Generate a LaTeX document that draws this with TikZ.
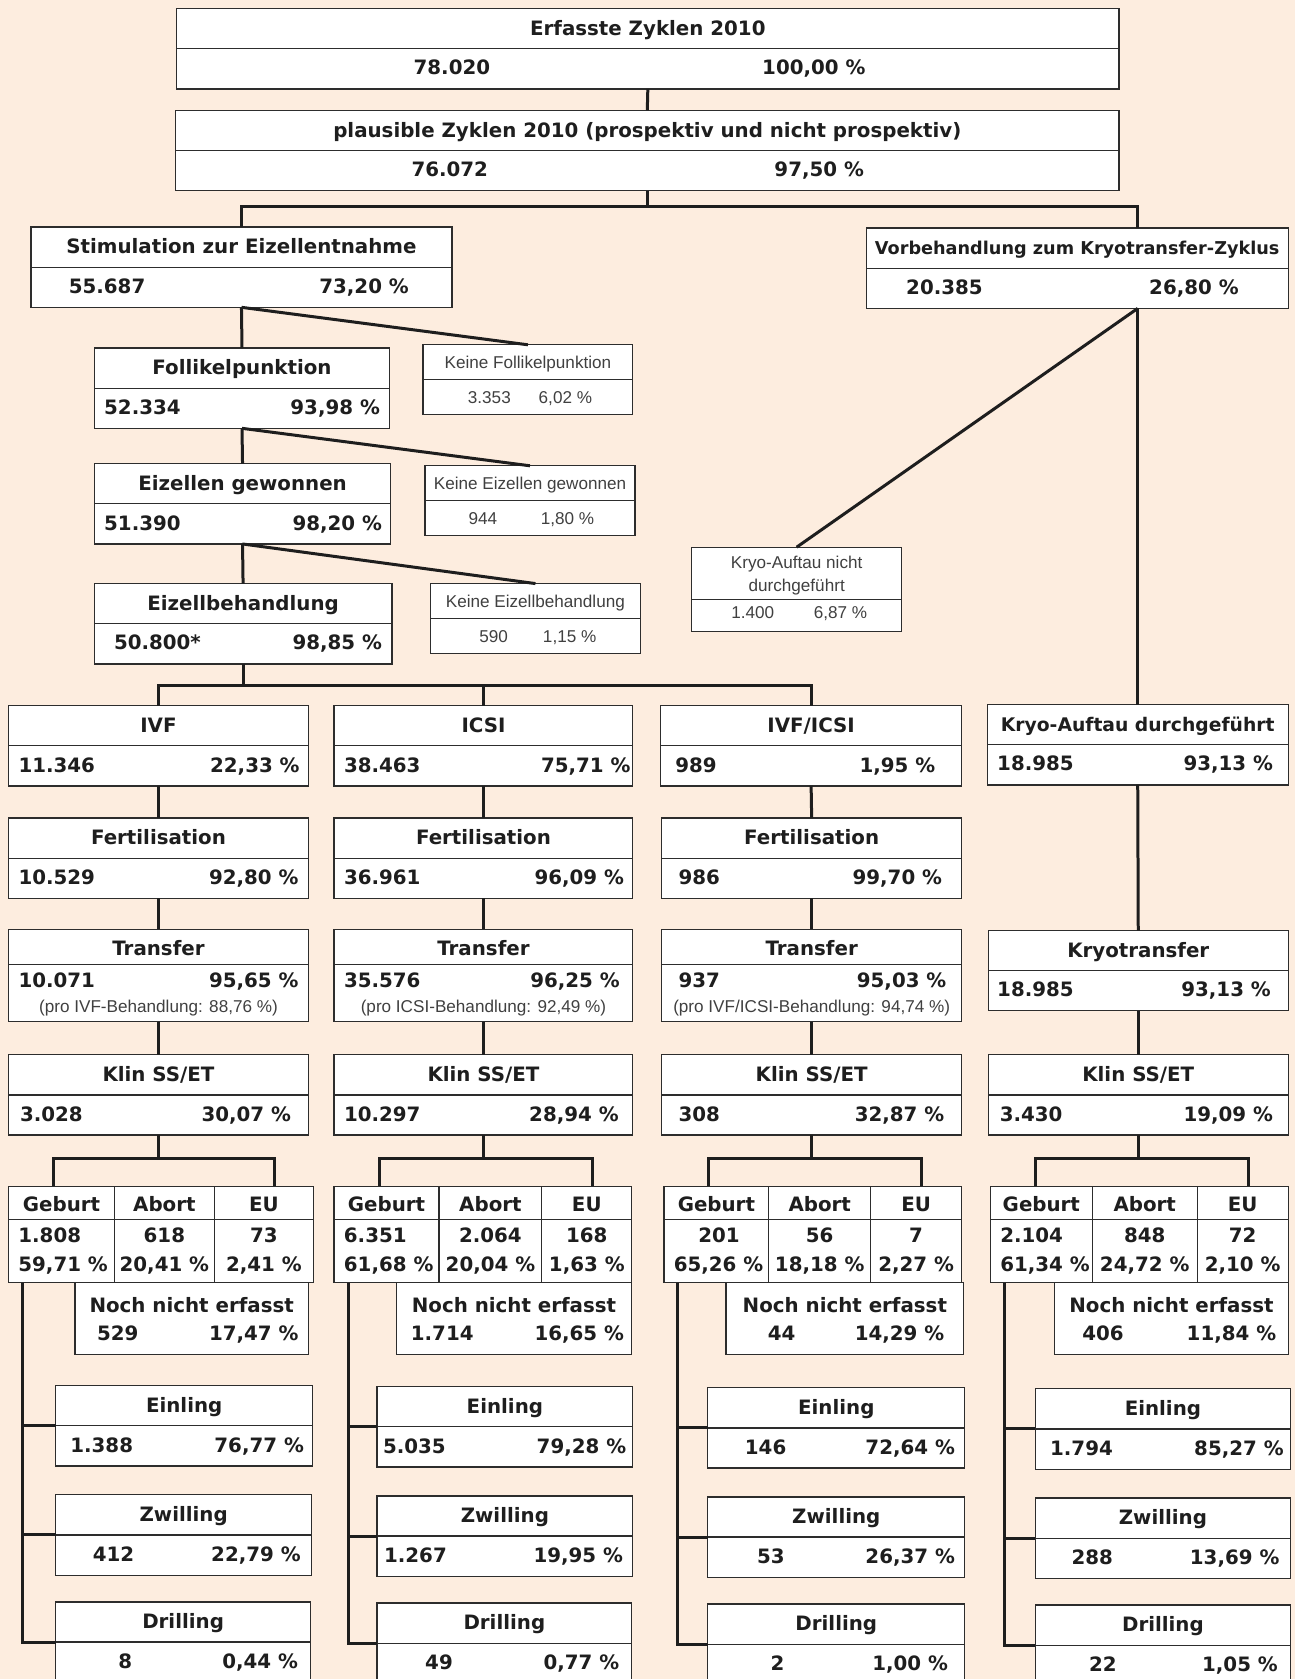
\documentclass[tikz,border=0pt]{standalone}
\usepackage{fontspec}
\setmainfont{DejaVu Sans}
\newfontfamily\lightfont{Liberation Sans}
\definecolor{pageBg}{RGB}{253,237,223}
\definecolor{boxEdge}{RGB}{45,45,45}
\definecolor{boxInk}{RGB}{30,30,30}

\tikzset{
  card/.style={draw=boxEdge, line width=1.2pt, fill=white, inner sep=0pt, outer sep=0pt},
  rule/.style={draw=boxEdge, line width=1.2pt},
  link/.style={draw=boxInk, line width=2.8pt},
  head/.style={font=\bfseries\fontsize{18.5}{21}\selectfont, text=boxInk, inner sep=0pt, anchor=base},
  note/.style={font=\lightfont\fontsize{16}{18}\selectfont, text=boxInk!85, inner sep=0pt, anchor=base},
}

% name, x1, x2, y1, title, number, x, percent, x
\newcommand{\statbox}[9]{%
  \node[card, minimum width={#3-#2}, minimum height=75] (#1) at ({(#2+#3)/2},{#4+37.5}) {};
  \draw[rule] (#1.west) -- (#1.east);
  \node[head] (#1-t) at ({(#2+#3)/2},{#4+25}) {#5};
  \node[head] (#1-n) at (#7,{#4+62}) {#6};
  \node[head] (#1-p) at (#9,{#4+62}) {#8};
}
\newcommand{\transbox}[9]{%
  \node[card, minimum width={#3-#2}, minimum height=86] (#1) at ({(#2+#3)/2},{#4+43}) {};
  \draw[rule] ([yshift=10pt]#1.west) -- ([yshift=10pt]#1.east);
  \node[head] (#1-t) at ({(#2+#3)/2},{#4+24}) {Transfer};
  \node[head] (#1-n) at (#6,{#4+54}) {#5};
  \node[head] (#1-p) at (#8,{#4+54}) {#7};
  \node[note] (#1-s) at ({(#2+#3)/2},{#4+78}) {#9};
}
\newcommand{\notebox}[9]{%
  \node[card, minimum width={#3-#2}, minimum height=65] (#1) at ({(#2+#3)/2},{#4+32.5}) {};
  \draw[rule] (#1.west) -- (#1.east);
  \node[note] (#1-t) at ({(#2+#3)/2},{#4+22}) {#5};
  \node[note] (#1-n) at (#7,{#4+55}) {#6};
  \node[note] (#1-p) at (#9,{#4+55}) {#8};
}
\newcommand{\outgrid}[5]{%
  \node[card, minimum width={#5-#2}, minimum height=90] (#1) at ({(#2+#5)/2},1153) {};
  \draw[rule] ([yshift=14pt]#1.west) -- ([yshift=14pt]#1.east);
  \draw[rule] (#3,1108) -- (#3,1198);
  \draw[rule] (#4,1108) -- (#4,1198);
  \node[head] (#1-h1) at ({(#2+#3)/2},1131) {Geburt};
  \node[head] (#1-h2) at ({(#3+#4)/2},1131) {Abort};
  \node[head] (#1-h3) at ({(#4+#5)/2},1131) {EU};
  \coordinate (#1-g) at ({#2+9},1131);
  \coordinate (#1-l) at ({#2+42},1108);
  \coordinate (#1-r) at ({#5-37},1108);
  \coordinate (#1-v) at ({#2+13},1198);
}
\newcommand{\outvals}[7]{%
  \node[head, anchor=base west] (#1-a1) at ([yshift=-29pt]#1-g) {#2};
  \node[head, anchor=base west] (#1-b1) at ([yshift=-56pt]#1-g) {#3};
  \node[head] (#1-a2) at ([yshift=-29pt]#1-h2.base) {#4};
  \node[head] (#1-b2) at ([yshift=-56pt]#1-h2.base) {#5};
  \node[head] (#1-a3) at ([yshift=-29pt]#1-h3.base) {#6};
  \node[head] (#1-b3) at ([yshift=-56pt]#1-h3.base) {#7};
}
\newcommand{\pendbox}[7]{%
  \node[card, minimum width={#3-#2}, minimum height=67] (#1) at ({(#2+#3)/2},1231.5) {};
  \node[head] (#1-t) at ({(#2+#3)/2},1226) {Noch nicht erfasst};
  \node[head] (#1-n) at (#5,1252) {#4};
  \node[head] (#1-p) at (#7,1252) {#6};
}

\begin{document}
\begin{tikzpicture}[x=1pt, y=-1pt]
  \useasboundingbox (0,0) rectangle (1209,1568);
  \fill[pageBg] (0,0) rectangle (1209,1568);

  % upper part
  \statbox{top}{165}{1045}{8}{Erfasste Zyklen 2010}{78.020}{422}{100,00 \%}{760}
  \statbox{plaus}{164}{1045}{103}{plausible Zyklen 2010 (prospektiv und nicht prospektiv)}{76.072}{420}{97,50 \%}{765}
  \statbox{stim}{29}{422}{212}{Stimulation zur Eizellentnahme}{55.687}{100}{73,20 \%}{340}
  \statbox{vorb}{809}{1203}{213}{\fontsize{16.5}{18}\selectfont Vorbehandlung zum Kryotransfer-Zyklus}{20.385}{882}{26,80 \%}{1115}
  \statbox{foll}{88}{364}{325}{Follikelpunktion}{52.334}{133}{93,98 \%}{313}
  \statbox{eiz}{88}{365}{433}{Eizellen gewonnen}{51.390}{133}{98,20 \%}{315}
  \statbox{beh}{88}{366}{545}{Eizellbehandlung}{50.800*}{147}{98,85 \%}{315}
  \notebox{kfoll}{395}{591}{322}{Keine Follikelpunktion}{3.353}{457}{6,02 \%}{528}
  \notebox{kbeiz}{397}{593}{435}{Keine Eizellen gewonnen}{944}{451}{1,80 \%}{530}
  \notebox{kbeh}{402}{598}{545}{Keine Eizellbehandlung}{590}{461}{1,15 \%}{532}

  \node[card, minimum width=196, minimum height=79] (knicht) at (744,550.5) {};
  \draw[rule] ([yshift=-9.5pt]knicht.west) -- ([yshift=-9.5pt]knicht.east);
  \node[note] (knicht-t1) at (744,531) {Kryo-Auftau nicht};
  \node[note] (knicht-t2) at (744,552) {durchgeführt};
  \node[note] (knicht-n) at (703,578) {1.400};
  \node[note] (knicht-p) at (785,578) {6,87 \%};

  % columns
  \statbox{ivf}{8}{288}{659}{IVF}{11.346}{53}{22,33 \%}{238}
  \statbox{icsi}{312}{591}{659}{ICSI}{38.463}{357}{75,71 \%}{547}
  \statbox{mix}{617}{898}{659}{IVF/ICSI}{989}{650}{1,95 \%}{838}
  \statbox{kryoa}{922}{1203}{658}{\fontsize{17.5}{20}\selectfont Kryo-Auftau durchgeführt}{18.985}{967}{93,13 \%}{1147}
  \statbox{fertA}{8}{288}{764}{Fertilisation}{10.529}{53}{92,80 \%}{237}
  \statbox{fertB}{312}{591}{764}{Fertilisation}{36.961}{357}{96,09 \%}{541}
  \statbox{fertC}{618}{898}{764}{Fertilisation}{986}{653}{99,70 \%}{838}
  \transbox{transA}{8}{288}{868}{10.071}{53}{95,65 \%}{237}{(pro IVF-Behandlung: 88,76 \%)}
  \transbox{transB}{312}{591}{868}{35.576}{357}{96,25 \%}{537}{(pro ICSI-Behandlung: 92,49 \%)}
  \transbox{transC}{618}{898}{868}{937}{653}{95,03 \%}{842}{(pro IVF/ICSI-Behandlung: 94,74 \%)}
  \statbox{kryot}{923}{1203}{869}{Kryotransfer}{18.985}{967}{93,13 \%}{1145}
  \statbox{klinA}{8}{288}{985}{Klin SS/ET}{3.028}{48}{30,07 \%}{230}
  \statbox{klinB}{312}{591}{985}{Klin SS/ET}{10.297}{357}{28,94 \%}{536}
  \statbox{klinC}{618}{898}{985}{Klin SS/ET}{308}{653}{32,87 \%}{840}
  \statbox{klinD}{923}{1203}{985}{Klin SS/ET}{3.430}{963}{19,09 \%}{1147}

  % outcomes
  \outgrid{outA}{8}{107}{200}{293}
  \outvals{outA}{1.808}{59,71 \%}{618}{20,41 \%}{73}{2,41 \%}
  \outgrid{outB}{312}{410}{506}{590}
  \outvals{outB}{6.351}{61,68 \%}{2.064}{20,04 \%}{168}{1,63 \%}
  \outgrid{outC}{620}{718}{813}{898}
  \outvals{outC}{\hspace{23pt}201}{65,26 \%}{56}{18,18 \%}{7}{2,27 \%}
  \outgrid{outD}{925}{1020}{1118}{1203}
  \outvals{outD}{2.104}{61,34 \%}{848}{24,72 \%}{72}{2,10 \%}
  \pendbox{penA}{70}{288}{529}{110}{17,47 \%}{237}
  \pendbox{penB}{370}{590}{1.714}{413}{16,65 \%}{541}
  \pendbox{penC}{678}{900}{44}{730}{14,29 \%}{840}
  \pendbox{penD}{985}{1203}{406}{1030}{11,84 \%}{1150}

  \statbox{einA}{52}{292}{1294}{Einling}{1.388}{95}{76,77 \%}{242}
  \statbox{zwiA}{52}{291}{1396}{Zwilling}{412}{106}{22,79 \%}{239}
  \statbox{driA}{52}{290}{1496}{Drilling}{8}{117}{0,44 \%}{243}
  \statbox{einB}{352}{591}{1295}{Einling}{5.035}{387}{79,28 \%}{543}
  \statbox{zwiB}{352}{591}{1397}{Zwilling}{1.267}{388}{19,95 \%}{540}
  \statbox{driB}{352}{590}{1497}{Drilling}{49}{410}{0,77 \%}{543}
  \statbox{einC}{661}{901}{1296}{Einling}{146}{715}{72,64 \%}{850}
  \statbox{zwiC}{661}{901}{1398}{Zwilling}{53}{720}{26,37 \%}{850}
  \statbox{driC}{661}{901}{1498}{Drilling}{2}{726}{1,00 \%}{850}
  \statbox{einD}{967}{1205}{1297}{Einling}{1.794}{1010}{85,27 \%}{1157}
  \statbox{zwiD}{967}{1205}{1399}{Zwilling}{288}{1020}{13,69 \%}{1153}
  \statbox{driD}{967}{1205}{1499}{Drilling}{22}{1030}{1,05 \%}{1158}

  % connectors
  \draw[link] (top.south) -- (plaus.north);
  \draw[link] (plaus.south) -- ++(0,15) -| (stim.north);
  \draw[link] (plaus.south) ++(0,15) -| (kryoa.north |- vorb.north);
  \draw[link] (stim.south) -- (foll.north);
  \draw[link] (stim.south) -- (kfoll.north);
  \draw[link] (foll.south) -- (eiz.north);
  \draw[link] (foll.south) -- (kbeiz.north);
  \draw[link] (eiz.south) -- (beh.north);
  \draw[link] (eiz.south) -- (kbeh.north);
  \draw[link] (beh.south) -- ++(0,20) -| (ivf.north);
  \draw[link] (beh.south) ++(0,20) -| (icsi.north);
  \draw[link] (beh.south) ++(0,20) -| (mix.north);
  \draw[link] (kryoa.north |- vorb.south) -- (kryoa.north);
  \draw[link] (kryoa.north |- vorb.south) -- (knicht.north);
  \foreach \a/\b in {ivf/fertA, fertA/transA, transA/klinA, icsi/fertB, fertB/transB,
      transB/klinB, mix/fertC, fertC/transC, transC/klinC, kryoa/kryot, kryot/klinD}
    \draw[link] (\a.south) -- (\b.north);
  \foreach \c in {A,B,C,D} {
    \draw[link] (klin\c.south) -- ++(0,22) -| (out\c-l);
    \draw[link] (klin\c.south) ++(0,22) -| (out\c-r);
    \draw[link] (out\c-v) |- (ein\c.west);
    \draw[link] (out\c-v) |- (zwi\c.west);
    \draw[link] (out\c-v) |- (dri\c.west);
  }
\end{tikzpicture}
\end{document}
